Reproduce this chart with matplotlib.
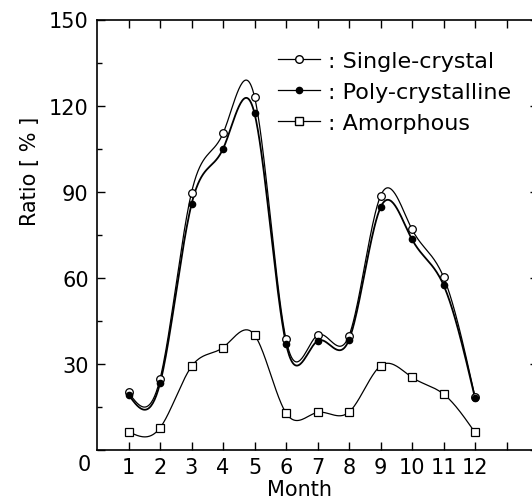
import numpy as np
import matplotlib
matplotlib.use("Agg")
import matplotlib.pyplot as plt
from matplotlib.lines import Line2D

# values
months = [1, 2, 3, 4, 5, 6, 7, 8, 9, 10, 11, 12]
single_crystal = [20.1, 24.7, 89.7, 110.3, 123.1, 38.6, 40.0, 39.8, 88.5, 76.9, 60.3, 18.5]
poly_crystalline = [19.3, 23.2, 85.6, 104.9, 117.3, 37.1, 38.0, 38.4, 84.5, 73.4, 57.5, 18.1]
amorphous = [6.4, 7.7, 29.1, 35.7, 40.1, 12.9, 13.1, 13.2, 29.3, 25.3, 19.5, 6.1]
labels = [": Single-crystal", ": Poly-crystalline", ": Amorphous"]


def natural_spline(x, y, n=400):
    # natural cubic spline through the points, only used for drawing the smooth curve
    x = np.asarray(x, float)
    y = np.asarray(y, float)
    k = len(x)
    h = np.diff(x)
    A = np.zeros((k, k))
    b = np.zeros(k)
    A[0, 0] = A[-1, -1] = 1.0
    for i in range(1, k - 1):
        A[i, i - 1] = h[i - 1]
        A[i, i] = 2 * (h[i - 1] + h[i])
        A[i, i + 1] = h[i]
        b[i] = 6 * ((y[i + 1] - y[i]) / h[i] - (y[i] - y[i - 1]) / h[i - 1])
    M = np.linalg.solve(A, b)
    xs = np.linspace(x[0], x[-1], n)
    idx = np.clip(np.searchsorted(x, xs) - 1, 0, k - 2)
    x0, x1 = x[idx], x[idx + 1]
    hh = x1 - x0
    t0, t1 = x1 - xs, xs - x0
    ys = (M[idx] * t0 ** 3 + M[idx + 1] * t1 ** 3) / (6 * hh) \
        + (y[idx] / hh - M[idx] * hh / 6) * t0 \
        + (y[idx + 1] / hh - M[idx + 1] * hh / 6) * t1
    return xs, ys


plt.rcParams['font.family'] = ['DejaVu Sans']
fig = plt.figure(figsize=(5.32, 5.02), dpi=100)
ax = fig.add_axes([97 / 532, 51 / 502, 441 / 532, 430.5 / 502])

# smooth curves
for vals, lw in [(single_crystal, 0.9), (poly_crystalline, 1.3), (amorphous, 0.9)]:
    xs, ys = natural_spline(months, vals)
    ax.plot(xs, ys, color="black", lw=lw, zorder=2)

# markers
ax.plot(months, single_crystal, "o", ms=5.5, mfc="white", mec="black", mew=0.9, zorder=3)
ax.plot(months, poly_crystalline, "o", ms=4.5, mfc="black", mec="black", zorder=4)
ax.plot(months, amorphous, "s", ms=5.5, mfc="white", mec="black", mew=0.9, zorder=3)

ax.set_xlim(0, 14)
ax.set_ylim(0, 150)

ax.set_xticks(range(1, 14))
ax.set_xticklabels([str(m) for m in months] + [""])
ax.set_yticks([0, 30, 60, 90, 120, 150])
ax.set_yticklabels(["", "30", "60", "90", "120", "150"])
ax.set_yticks([15, 45, 75, 105, 135], minor=True)
ax.tick_params(which="both", direction="in", top=True, right=True, labelsize=15, width=1.0)
ax.tick_params(which="major", length=6)
ax.tick_params(which="minor", length=3.5)
ax.tick_params(axis="y", pad=6)
ax.tick_params(axis="x", pad=5)
for s in ax.spines.values():
    s.set_linewidth(1.2)

# origin label sits below the corner
ax.text(-0.2, -5, "0", fontsize=15, ha="right", va="center")

ax.set_xlabel("Month", fontsize=15)
ax.xaxis.set_label_coords(0.46, -0.068)
ax.set_ylabel("Ratio [ % ]", fontsize=15)
ax.yaxis.set_label_coords(-0.13, 0.65)

handles = [
    Line2D([], [], color="black", lw=0.9, marker="o", ms=5.5, mfc="white", mec="black"),
    Line2D([], [], color="black", lw=0.9, marker="o", ms=4.5, mfc="black", mec="black"),
    Line2D([], [], color="black", lw=0.9, marker="s", ms=5.5, mfc="white", mec="black"),
]
ax.legend(handles, labels, loc="upper left", bbox_to_anchor=(0.39, 0.948), frameon=False,
          fontsize=16, handlelength=1.9, handletextpad=0.35, labelspacing=0.5,
          borderaxespad=0)

fig.savefig("out.png", dpi=100)
